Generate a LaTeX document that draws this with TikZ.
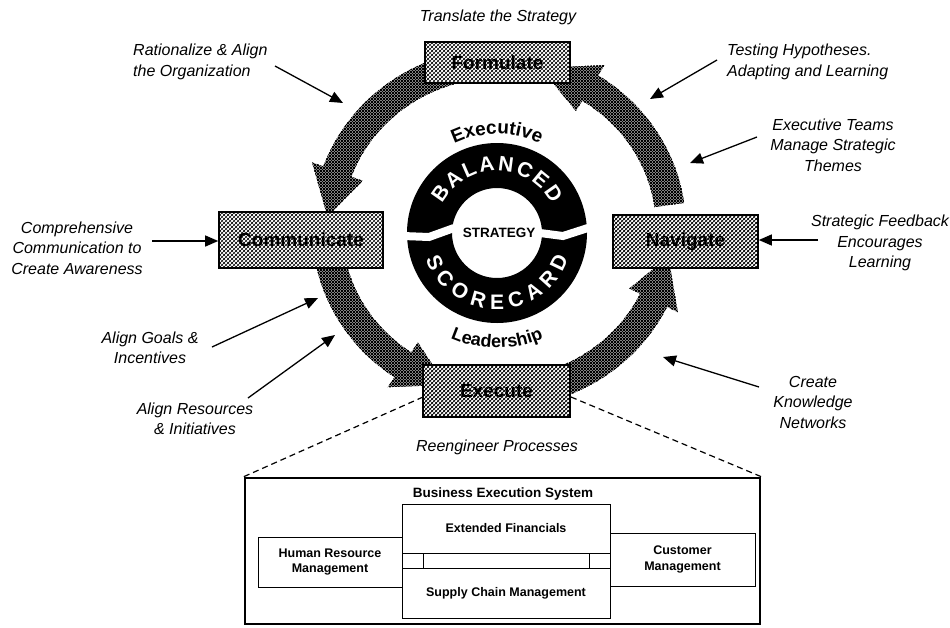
\documentclass[tikz,border=0pt]{standalone}
\usepackage{fontspec}
\setmainfont{Liberation Sans}
\usetikzlibrary{arrows.meta,patterns,decorations.text}

% dense cross hatch for the cycle arrows
\pgfdeclarepatternformonly{ringhatch}{\pgfqpoint{-1pt}{-1pt}}{\pgfqpoint{4pt}{4pt}}{\pgfqpoint{3pt}{3pt}}{%
  \pgfsetlinewidth{0.8pt}%
  \pgfpathmoveto{\pgfqpoint{-0.5pt}{-0.5pt}}\pgfpathlineto{\pgfqpoint{3.5pt}{3.5pt}}%
  \pgfpathmoveto{\pgfqpoint{-0.5pt}{3.5pt}}\pgfpathlineto{\pgfqpoint{3.5pt}{-0.5pt}}%
  \pgfusepath{stroke}}
% lighter hatch for the stage boxes
\pgfdeclarepatternformonly{boxhatch}{\pgfqpoint{-1pt}{-1pt}}{\pgfqpoint{5pt}{5pt}}{\pgfqpoint{4pt}{4pt}}{%
  \pgfsetlinewidth{0.7pt}%
  \pgfpathmoveto{\pgfqpoint{-0.5pt}{-0.5pt}}\pgfpathlineto{\pgfqpoint{4.5pt}{4.5pt}}%
  \pgfusepath{stroke}%
  \pgfsetlinewidth{0.35pt}%
  \pgfpathmoveto{\pgfqpoint{-0.5pt}{4.5pt}}\pgfpathlineto{\pgfqpoint{4.5pt}{-0.5pt}}%
  \pgfusepath{stroke}}

% ring arrow: start angle, arrowhead base angle, tip angle
\newcommand\ringarrow[3]{%
  \fill[pattern=ringhatch]
    (#1:187 and 180) arc[start angle=#1, end angle=#2, x radius=187, y radius=180]
    -- (#2:199 and 192) -- (#3:172 and 165) -- (#2:145 and 138)
    -- (#2:157 and 150) arc[start angle=#2, end angle=#1, x radius=157, y radius=150]
    -- cycle;}

\begin{document}
\begin{tikzpicture}[x=1pt,y=1pt,
  lbl/.style={font=\itshape\fontsize{16}{20.5}\selectfont, inner sep=0pt, align=center},
  ptr/.style={line width=1.3pt, -{Triangle[length=13pt,width=11pt]}},
  stage/.style={draw=black, line width=1.6pt, preaction={fill=white}, pattern=boxhatch,
    inner sep=0pt, font=\bfseries\fontsize{19}{19}\selectfont},
  sysbox/.style={draw=black, line width=0.8pt, fill=white, inner sep=0pt, align=center,
    font=\bfseries\fontsize{12.5}{15.5}\selectfont},
  dashline/.style={line width=1.2pt, dash pattern=on 6pt off 4pt}
]
\useasboundingbox (0,0) rectangle (950,-627);

% cycle arrows
\begin{scope}[shift={(499,-228)}]
  \ringarrow{105}{160}{176}
  \ringarrow{190}{236}{252}
  \ringarrow{290}{334}{350}
  \ringarrow{8}{58}{76}
\end{scope}

% stage boxes
\node[stage, minimum width=145pt, minimum height=41pt] (form) at (497.5,-62.5) {Formulate};
\node[stage, minimum width=164pt, minimum height=56pt] (comm) at (301,-240) {Communicate};
\node[stage, minimum width=145pt, minimum height=53pt] (navi) at (685.5,-241.5) {Navigate};
\node[stage, minimum width=147pt, minimum height=52pt] (exec) at (496.5,-391) {Execute};

% central emblem
\begin{scope}[shift={(497,-233)}]
  \fill[black, even odd rule] (0,0) circle[radius=90] (0,0) circle[radius=45];
  \draw[white, line width=8pt] (-94,-3) -- (-68,-4) -- (-43,5);
  \draw[white, line width=8pt] (43,0) -- (66,-3) -- (94,6);
  \path[decorate, decoration={text along path, text align={fit to path},
    text={|\color{white}\bfseries\fontsize{21}{21}\selectfont|BALANCED}}]
    (152:62) arc[start angle=152, end angle=28, radius=62];
  \path[decorate, decoration={text along path, text align={fit to path},
    text={|\color{white}\bfseries\fontsize{21}{21}\selectfont|SCORECARD}}]
    (200:76) arc[start angle=200, end angle=340, radius=76];
  \path[decorate, decoration={text along path, text align=center,
    text={|\bfseries\fontsize{19}{19}\selectfont|Executive}}]
    (135:99) arc[start angle=135, end angle=45, radius=99];
  \path[decorate, decoration={text along path, text align=center,
    text={|\bfseries\fontsize{18}{18}\selectfont|Leadership}}]
    (225:115) arc[start angle=225, end angle=315, radius=115];
  \node[font=\bfseries\fontsize{13.5}{14}\selectfont, inner sep=0pt] (strat) at (2,0) {STRATEGY};
\end{scope}

% surrounding labels
\node[lbl] (ttop) at (498,-17) {Translate the Strategy};
\node[lbl, align=left, anchor=west] (rat) at (133,-62) {Rationalize \& Align\\the Organization};
\node[lbl, align=left, anchor=west] (tst) at (727,-62) {Testing Hypotheses.\\Adapting and Learning};
\node[lbl] (ext) at (833,-145) {Executive Teams\\Manage Strategic\\Themes};
\node[lbl] (cmp) at (77,-248) {Comprehensive\\Communication to\\Create Awareness};
\node[lbl] (sfb) at (880,-243) {Strategic Feedback\\Encourages\\Learning};
\node[lbl] (agi) at (150,-348) {Align Goals \&\\Incentives};
\node[lbl] (ari) at (195,-419) {Align Resources\\\& Initiatives};
\node[lbl] (ckn) at (813,-402) {Create\\Knowledge\\Networks};
\node[lbl] (rep) at (497,-447) {Reengineer Processes};

% pointer arrows
\coordinate (p1s) at (275,-66);  \coordinate (p1e) at (343,-103);
\coordinate (p2s) at (717,-60);  \coordinate (p2e) at (650,-99);
\coordinate (p3s) at (757,-137); \coordinate (p3e) at (690,-163);
\coordinate (p4s) at (152,-241);
\coordinate (p5s) at (818,-240);
\coordinate (p6s) at (212,-347); \coordinate (p6e) at (318,-298);
\coordinate (p7s) at (248,-398); \coordinate (p7e) at (335,-335);
\coordinate (p8s) at (759,-387); \coordinate (p8e) at (663,-357);
\draw[ptr] (p1s) -- (p1e);
\draw[ptr] (p2s) -- (p2e);
\draw[ptr] (p3s) -- (p3e);
\draw[ptr] (p4s) -- (comm.west |- p4s);
\draw[ptr] (p5s) -- (navi.east |- p5s);
\draw[ptr] (p6s) -- (p6e);
\draw[ptr] (p7s) -- (p7e);
\draw[ptr] (p8s) -- (p8e);

% business execution system
\node[draw=black, line width=2.6pt, minimum width=515pt, minimum height=146pt, inner sep=0pt] (bes) at (502.5,-551) {};
\node[font=\bfseries\fontsize{13.5}{14}\selectfont, inner sep=0pt] (bestitle) at (503,-494) {Business Execution System};
\node[sysbox, minimum width=166pt, minimum height=15pt] (mid) at (506,-560.5) {};
\node[sysbox, minimum width=144pt, minimum height=50pt] (hrm) at (330,-562) {Human Resource\\Management};
\node[sysbox, minimum width=208pt, minimum height=49pt] (efin) at (506,-528.5) {Extended Financials};
\node[sysbox, minimum width=208pt, minimum height=50pt] (scm) at (506,-593) {Supply Chain Management};
\node[sysbox, minimum width=145pt, minimum height=53pt] (cust) at (682.5,-559.5) {Customer\\Management};

% zoom lines from Execute
\coordinate (exl) at (423,-397);
\coordinate (exr) at (571,-397);
\draw[dashline] (exl) -- (bes.north west);
\draw[dashline] (exr) -- (bes.north east);
\end{tikzpicture}
\end{document}
